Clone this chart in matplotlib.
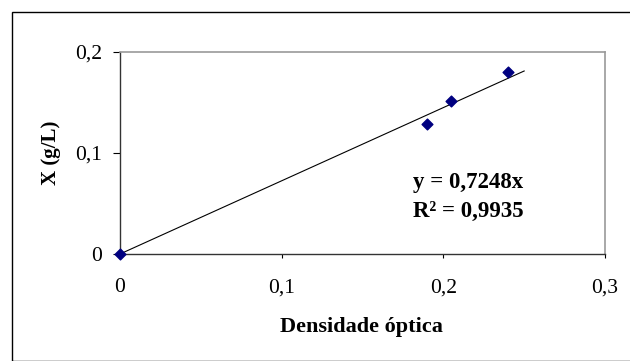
import matplotlib
matplotlib.use("Agg")
import matplotlib.pyplot as plt
from matplotlib.patches import Rectangle
import numpy as np

x_vals = [0.0, 0.19, 0.205, 0.24]
y_vals = [0.0, 0.129, 0.151, 0.180]
slope = 0.7248
fit_x = [0.0, 0.25]
x_ticks = [0, 0.1, 0.2, 0.3]
x_ticklabels = ["0", "0,1", "0,2", "0,3"]
y_ticks = [0, 0.1, 0.2]
y_ticklabels = ["0", "0,1", "0,2"]

plt.rcParams['font.family'] = ['Liberation Serif', 'DejaVu Serif']

W, H = 630, 361
fig = plt.figure(figsize=(W/100, H/100), dpi=100)
fig.patches.append(Rectangle((12/W, 0), 1.0, 1 - 12/H, transform=fig.transFigure,
                             fill=False, edgecolor='black', linewidth=1.0))

ax = fig.add_axes([120/W, 1 - 254/H, (605-120)/W, (254-52)/H])
fx = np.array(fit_x)
ax.plot(fx, slope * fx, color='black', linewidth=0.8, zorder=2)
ax.scatter(x_vals, y_vals, marker='D', s=30, color='#000080', zorder=3, clip_on=False)

ax.set_xlim(0, 0.3)
ax.set_ylim(0, 0.2)
ax.set_xticks(x_ticks)
ax.set_xticklabels(x_ticklabels)
ax.set_yticks(y_ticks)
ax.set_yticklabels(y_ticklabels)
ax.tick_params(axis='x', direction='out', length=3, pad=14.5, labelsize=15.5, width=0.8)
ax.tick_params(axis='y', direction='out', length=5, pad=8, labelsize=15.5, width=0.8)

for s in ['top', 'right']:
    ax.spines[s].set_color('#999999')
    ax.spines[s].set_linewidth(1.2)
for s in ['left', 'bottom']:
    ax.spines[s].set_color('#333333')
    ax.spines[s].set_linewidth(1.0)

fig.text(361/W, 1 - 332/H, "Densidade óptica", fontsize=16, fontweight='bold',
         ha='center', va='baseline')
fig.text(51/W, 1 - 153/H, "X (g/L)", fontsize=15, fontweight='bold',
         ha='center', va='center', rotation=90)

ax.text(0.1812, 0.0653, "y = 0,7248x", fontsize=16.5, fontweight='bold', ha='left', va='baseline')
ax.text(0.1812, 0.0366, "R² = 0,9935", fontsize=16.5, fontweight='bold', ha='left', va='baseline')

fig.savefig("out.png", dpi=100)
